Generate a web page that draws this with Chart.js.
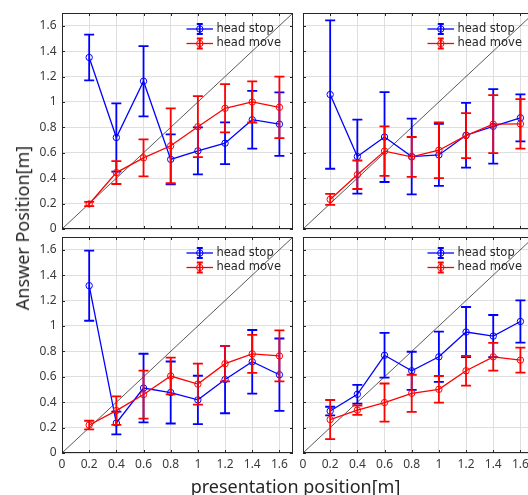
<!DOCTYPE html>
<html><head><meta charset="utf-8">
<script src="https://cdn.jsdelivr.net/npm/chart.js@4/dist/chart.umd.min.js"></script>
<style>
html,body{margin:0;padding:0;background:#fff;width:528px;height:495px;overflow:hidden;position:relative;}
canvas{position:absolute;}
.t{position:absolute;font-family:'Noto Sans',sans-serif;font-size:18px;line-height:18px;color:#262626;white-space:nowrap;}
#xt{left:295.5px;top:477px;transform:translateX(-50%);}
#yt{left:21.5px;top:227.5px;transform:translate(-50%,-50%) rotate(-90deg);}
</style></head><body>
<canvas id="c0" width="299" height="257"></canvas>
<canvas id="c1" width="299" height="257"></canvas>
<canvas id="c2" width="299" height="257"></canvas>
<canvas id="c3" width="299" height="257"></canvas>
<div class="t" id="xt">presentation position[m]</div>
<div class="t" id="yt">Answer Position[m]</div>
<script>
// ---- data ----
const positions = [0.2, 0.4, 0.6, 0.8, 1.0, 1.2, 1.4, 1.6];
const tickValues = [0, 0.2, 0.4, 0.6, 0.8, 1.0, 1.2, 1.4, 1.6];
const axisRange = [0, 1.7];
const diagonal = [0, 1.7];
const seriesNames = ['head stop', 'head move'];

// top-left
const stopTL   = [1.350, 0.720, 1.163, 0.548, 0.615, 0.675, 0.860, 0.825];
const stopTLsd = [0.180, 0.268, 0.276, 0.196, 0.185, 0.164, 0.227, 0.250];
const moveTL   = [0.197, 0.444, 0.560, 0.655, 0.805, 0.950, 1.000, 0.958];
const moveTLsd = [0.017, 0.090, 0.146, 0.295, 0.240, 0.190, 0.162, 0.242];
// top-right
const stopTR   = [1.058, 0.570, 0.724, 0.570, 0.583, 0.738, 0.808, 0.875];
const stopTRsd = [0.584, 0.291, 0.354, 0.298, 0.244, 0.255, 0.293, 0.185];
const moveTR   = [0.233, 0.427, 0.613, 0.567, 0.620, 0.735, 0.825, 0.827];
const moveTRsd = [0.043, 0.112, 0.195, 0.157, 0.219, 0.177, 0.228, 0.195];
// bottom-left
const stopBL   = [1.317, 0.236, 0.511, 0.476, 0.418, 0.578, 0.718, 0.616];
const stopBLsd = [0.276, 0.089, 0.270, 0.244, 0.190, 0.265, 0.250, 0.285];
const moveBL   = [0.220, 0.334, 0.460, 0.606, 0.542, 0.703, 0.780, 0.764];
const moveBLsd = [0.034, 0.112, 0.189, 0.144, 0.162, 0.140, 0.149, 0.201];
// bottom-right
const stopBR   = [0.330, 0.462, 0.769, 0.647, 0.757, 0.952, 0.920, 1.035];
const stopBRsd = [0.034, 0.074, 0.176, 0.150, 0.198, 0.197, 0.166, 0.167];
const moveBR   = [0.263, 0.337, 0.397, 0.470, 0.501, 0.647, 0.757, 0.731];
const moveBRsd = [0.154, 0.037, 0.150, 0.146, 0.105, 0.117, 0.109, 0.099];

// ---- layout (chart-area left/top in page px) ----
const panels = [
  {id:'c0', left:62,  top:13,  xl:false, yl:true,  stop:stopTL, stopSd:stopTLsd, move:moveTL, moveSd:moveTLsd},
  {id:'c1', left:303, top:13,  xl:false, yl:false, stop:stopTR, stopSd:stopTRsd, move:moveTR, moveSd:moveTRsd},
  {id:'c2', left:62,  top:237, xl:true,  yl:true,  stop:stopBL, stopSd:stopBLsd, move:moveBL, moveSd:moveBLsd},
  {id:'c3', left:303, top:237, xl:true,  yl:false, stop:stopBR, stopSd:stopBRsd, move:moveBR, moveSd:moveBRsd}
];
const BLUE = '#0000ff', RED = '#ff0000', AXC = '#262626';

const errorBars = {
  id: 'errorBars',
  afterDatasetDraw(chart, args) {
    const ds = chart.data.datasets[args.index];
    if (!ds.sd) return;
    const xs = chart.scales.x, ys = chart.scales.y, ctx = chart.ctx, a = chart.chartArea;
    ctx.save();
    ctx.beginPath(); ctx.rect(a.left, a.top, a.right - a.left, a.bottom - a.top); ctx.clip();
    ctx.strokeStyle = ds.borderColor; ctx.lineWidth = 1.8;
    ds.data.forEach((p, i) => {
      const px = xs.getPixelForValue(p.x);
      const y1 = ys.getPixelForValue(p.y - ds.sd[i]);
      const y2 = ys.getPixelForValue(p.y + ds.sd[i]);
      ctx.beginPath();
      ctx.moveTo(px, y1); ctx.lineTo(px, y2);
      ctx.moveTo(px - 5, y1); ctx.lineTo(px + 5, y1);
      ctx.moveTo(px - 5, y2); ctx.lineTo(px + 5, y2);
      ctx.stroke();
    });
    ctx.restore();
  }
};

const frame = {
  id: 'frame',
  afterDatasetsDraw(chart) {
    const a = chart.chartArea, ctx = chart.ctx, xs = chart.scales.x, ys = chart.scales.y;
    ctx.save();
    ctx.strokeStyle = AXC; ctx.lineWidth = 1;
    ctx.beginPath();
    tickValues.forEach(v => {
      const px = Math.round(xs.getPixelForValue(v)) + 0.5;
      ctx.moveTo(px, a.bottom); ctx.lineTo(px, a.bottom - 3);
      ctx.moveTo(px, a.top); ctx.lineTo(px, a.top + 3);
      const py = Math.round(ys.getPixelForValue(v)) + 0.5;
      ctx.moveTo(a.left, py); ctx.lineTo(a.left + 3, py);
      ctx.moveTo(a.right, py); ctx.lineTo(a.right - 3, py);
    });
    ctx.stroke();
    ctx.strokeRect(a.left + 0.5, a.top + 0.5, a.right - a.left - 1, a.bottom - a.top - 1);
    ctx.restore();
  }
};

const eLegend = {
  id: 'eLegend',
  afterDraw(chart) {
    const a = chart.chartArea, ctx = chart.ctx;
    const sets = chart.data.datasets.filter(d => d.sd);
    ctx.save();
    sets.forEach((ds, k) => {
      const yy = a.top + 16 + k * 14.5;
      const x0 = a.right - 106.5, x1 = a.right - 80, xm = a.right - 93.2;
      ctx.strokeStyle = ds.borderColor;
      ctx.lineWidth = 1.3;
      ctx.beginPath(); ctx.moveTo(x0, yy); ctx.lineTo(x1, yy); ctx.stroke();
      ctx.lineWidth = 1.8;
      ctx.beginPath();
      ctx.moveTo(xm, yy - 5); ctx.lineTo(xm, yy + 5);
      ctx.moveTo(xm - 3, yy - 5); ctx.lineTo(xm + 3, yy - 5);
      ctx.moveTo(xm - 3, yy + 5); ctx.lineTo(xm + 3, yy + 5);
      ctx.stroke();
      ctx.lineWidth = 1;
      ctx.beginPath(); ctx.arc(xm, yy, 3.2, 0, Math.PI * 2); ctx.stroke();
      ctx.fillStyle = AXC;
      ctx.font = '11.5px "DejaVu Sans"';
      ctx.textBaseline = 'middle';
      ctx.fillText(ds.label, a.right - 76.5, yy);
    });
    ctx.restore();
  }
};

function pts(vals) { return positions.map((p, i) => ({x: p, y: vals[i]})); }
function fmt(v) { return String(+(+v).toFixed(1)); }

panels.forEach(P => {
  const cv = document.getElementById(P.id);
  cv.style.left = (P.left - 62) + 'px';
  cv.style.top = (P.top - 13) + 'px';
  new Chart(cv, {
    type: 'line',
    data: {
      datasets: [
        {label: seriesNames[0], data: pts(P.stop), sd: P.stopSd, borderColor: BLUE, backgroundColor: 'rgba(0,0,0,0)',
         borderWidth: 1.3, pointRadius: 3.2, pointBorderWidth: 1, pointBorderColor: BLUE, pointBackgroundColor: 'rgba(0,0,0,0)', order: 1},
        {label: seriesNames[1], data: pts(P.move), sd: P.moveSd, borderColor: RED, backgroundColor: 'rgba(0,0,0,0)',
         borderWidth: 1.3, pointRadius: 3.2, pointBorderWidth: 1, pointBorderColor: RED, pointBackgroundColor: 'rgba(0,0,0,0)', order: 0},
        {label: 'diag', data: diagonal.map(v => ({x: v, y: v})), borderColor: '#111', borderWidth: 0.7, pointRadius: 0, order: 2}
      ]
    },
    options: {
      responsive: false, animation: false, events: [],
      layout: {padding: {left: 0, top: 13, right: 6, bottom: 0}},
      plugins: {legend: {display: false}, tooltip: {enabled: false}},
      scales: {
        x: {
          type: 'linear', min: axisRange[0], max: axisRange[1],
          afterBuildTicks: s => { s.ticks = tickValues.map(v => ({value: v})); },
          afterFit: s => { s.height = 28; s.paddingLeft = 0; s.paddingRight = 0; s.paddingTop = 0; s.paddingBottom = 0; },
          grid: {color: '#dfdfdf', lineWidth: 1, drawTicks: false},
          border: {display: false},
          ticks: {display: P.xl, padding: 4.5, color: '#3a3a3a', font: {family: 'Noto Sans', size: 12}, callback: fmt, maxRotation: 0, autoSkip: false}
        },
        y: {
          type: 'linear', min: axisRange[0], max: axisRange[1],
          afterBuildTicks: s => { s.ticks = tickValues.map(v => ({value: v})); },
          afterFit: s => { s.width = 62; s.paddingLeft = 0; s.paddingRight = 0; s.paddingTop = 0; s.paddingBottom = 0; },
          grid: {color: '#dfdfdf', lineWidth: 1, drawTicks: false},
          border: {display: false},
          ticks: {display: P.yl, padding: 5.5, color: '#3a3a3a', font: {family: 'Noto Sans', size: 12}, callback: fmt, autoSkip: false}
        }
      }
    },
    plugins: [errorBars, frame, eLegend]
  });
});
</script>
</body></html>
